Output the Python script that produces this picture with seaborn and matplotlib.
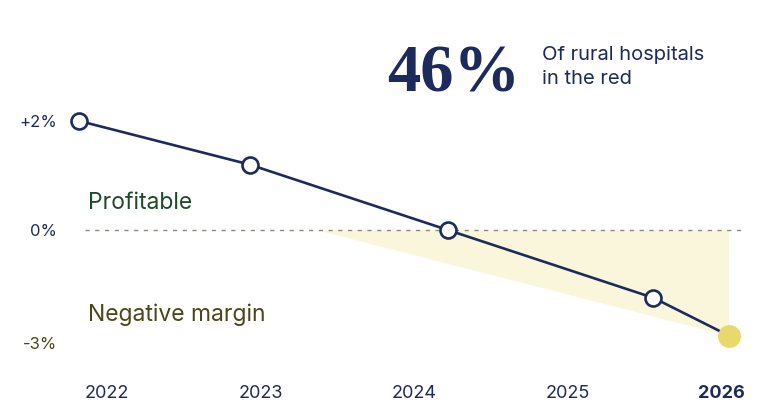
import numpy as np
import matplotlib
matplotlib.use("Agg")
import matplotlib.pyplot as plt
import seaborn as sns

# values (margin, %)
years = [2021.82, 2022.93, 2024.22, 2025.56, 2026.05]
margin = [2.0, 1.2, 0.0, -1.8, -2.8]
tick_years = [2022, 2023, 2024, 2025, 2026]
tick_labels = ["2022", "2023", "2024", "2025", "2026"]
y_ticks = [2, 0, -3]
y_labels = ["+2%", "0%", "-3%"]
shade_start = 2023.36

navy = "#1c2b5c"
olive = "#4a4718"
green = "#1d4a2a"
yellow = "#e9d96c"
shade = "#faf6dc"

sns.set_theme(style="white")
plt.rcParams["font.family"] = ["Inter", "DejaVu Sans"]


# y axis is not linear: the positive side is stretched compared to the negative side
def fwd(y):
    y = np.asarray(y, dtype=float)
    return np.where(y >= 0, y * 54.5, y * 37.7)


def inv(f):
    f = np.asarray(f, dtype=float)
    return np.where(f >= 0, f / 54.5, f / 37.7)


fig = plt.figure(figsize=(7.6, 4.08), dpi=100)
ax = fig.add_axes([62 / 760, 30 / 408, 698 / 760, 378 / 408])
ax.set_yscale("function", functions=(fwd, inv))

# shaded wedge below zero
ax.fill([shade_start, years[-1], years[-1]], [0, 0, margin[-1]], color=shade, lw=0, zorder=1)
ax.hlines(0, 2021.86, 2026.16, colors="#8c8a80", linewidth=1.0, linestyles=(0, (3, 4)), zorder=2)

sns.lineplot(x=years, y=margin, ax=ax, color=navy, linewidth=1.9, zorder=3)
sns.lineplot(x=years[:-1], y=margin[:-1], ax=ax, color=navy, linewidth=0, marker="o",
             markersize=11.5, markerfacecolor="white", markeredgecolor=navy,
             markeredgewidth=1.9, zorder=4)
ax.plot(years[-1], margin[-1], "o", color=yellow, markersize=16.5, markeredgewidth=0, zorder=5)

ax.set_xlim(2021.707, 2026.254)
ax.set_ylim(-3.926, 4.22)
ax.set_xticks(tick_years)
ax.set_xticklabels(tick_labels)
ax.set_yticks(y_ticks)
ax.set_yticklabels(y_labels)
ax.minorticks_off()
ax.tick_params(axis="x", length=0, pad=5.4, labelsize=13, labelcolor=navy)
ax.tick_params(axis="y", length=0, pad=3.6, labelsize=12, labelcolor=navy)
ax.get_xticklabels()[-1].set_fontweight("bold")
ax.get_yticklabels()[-1].set_color(olive)
ax.set_xlabel("")
ax.set_ylabel("")
ax.grid(False)
sns.despine(ax=ax, left=True, bottom=True)

ax.text((88 - 62) / 698, (378 - 209) / 378, "Profitable", transform=ax.transAxes,
        fontsize=16.5, color=green, va="baseline")
ax.text((88 - 62) / 698, (378 - 321) / 378, "Negative margin", transform=ax.transAxes,
        fontsize=16.5, color=olive, va="baseline")

fig.text(387 / 760, (408 - 92) / 408, "46%", fontsize=48, fontweight="bold",
         family=["Liberation Serif", "DejaVu Serif"], color=navy, va="baseline")
fig.text(542 / 760, (408 - 60) / 408, "Of rural hospitals", fontsize=14.5, color=navy, va="baseline")
fig.text(542 / 760, (408 - 84) / 408, "in the red", fontsize=14.5, color=navy, va="baseline")

fig.savefig("out.png", dpi=100)
